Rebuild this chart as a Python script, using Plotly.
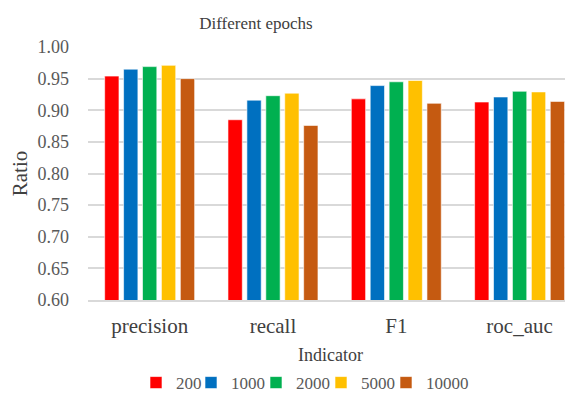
import plotly.graph_objects as go

categories = ["precision", "recall", "F1", "roc_auc"]
series_names = ["200", "1000", "2000", "5000", "10000"]
v200 = [0.954, 0.885, 0.918, 0.913]
v1000 = [0.965, 0.916, 0.939, 0.921]
v2000 = [0.969, 0.923, 0.945, 0.930]
v5000 = [0.971, 0.927, 0.947, 0.929]
v10000 = [0.950, 0.876, 0.911, 0.914]
colors = ["#FF0000", "#0070C0", "#00B050", "#FFC000", "#C55A11"]
yticks = [0.60, 0.65, 0.70, 0.75, 0.80, 0.85, 0.90, 0.95, 1.00]

font = "Liberation Serif"
# page body has an 8px default margin, so the figure is drawn 8px lower/right
OFF = 8
W, H = 573 - OFF, 394 - OFF
L, R, T, B = 88 - OFF, 0, 47 - OFF, 94

# legend swatch positions (page pixels) for each series entry
legend_x_px = [155, 210, 275, 340, 405]
SWATCH_OFF = 19
leg_y = (H - (383 - OFF)) / H

fig = go.Figure()
legend_layout = {}
for i, (name, vals, c) in enumerate(zip(series_names, [v200, v1000, v2000, v5000, v10000], colors)):
    lid = "legend" if i == 0 else f"legend{i+1}"
    fig.add_trace(go.Bar(name=name, x=categories, y=vals, marker_color=c,
                         marker_line_color="rgba(255,255,255,0.6)", marker_line_width=1,
                         legend=lid))
    legend_layout[lid] = dict(orientation="h", xref="container", yref="container",
                              x=(legend_x_px[i] - SWATCH_OFF - OFF) / W, xanchor="left",
                              y=leg_y, yanchor="middle",
                              font=dict(family=font, size=17, color="#595959"), itemwidth=30,
                              bgcolor="rgba(0,0,0,0)")

fig.update_layout(
    width=W, height=H,
    margin=dict(l=L, r=R, t=T, b=B, pad=0),
    paper_bgcolor="white", plot_bgcolor="white",
    barmode="group", bargap=0.233, bargroupgap=0.243,
    font=dict(family=font, color="#595959", size=17),
    title=dict(text="Different epochs", x=(256 - OFF)/W, xanchor="center", y=1-(23 - OFF)/H, yanchor="middle",
               font=dict(family=font, size=17, color="#404040")),
    showlegend=True,
    **legend_layout,
)
fig.update_yaxes(range=[0.6, 1.0], tickvals=yticks, tickformat=".2f", automargin=False,
                 showgrid=True, gridcolor="#D9D9D9", gridwidth=1.5, zeroline=False,
                 showline=False, ticks="", ticklabelstandoff=18,
                 tickfont=dict(family=font, size=18, color="#595959"),
                 title=dict(text="Ratio", font=dict(family=font, size=21, color="#404040"), standoff=15))
fig.update_xaxes(range=[-0.5, 3.433], automargin=False,
                 showline=True, linecolor="#D9D9D9", linewidth=1.5, ticks="",
                 ticklabelstandoff=6,
                 tickfont=dict(family=font, size=21, color="#404040"),
                 title=dict(text="Indicator", font=dict(family=font, size=18, color="#404040"), standoff=14))
fig.write_html("out.html")
